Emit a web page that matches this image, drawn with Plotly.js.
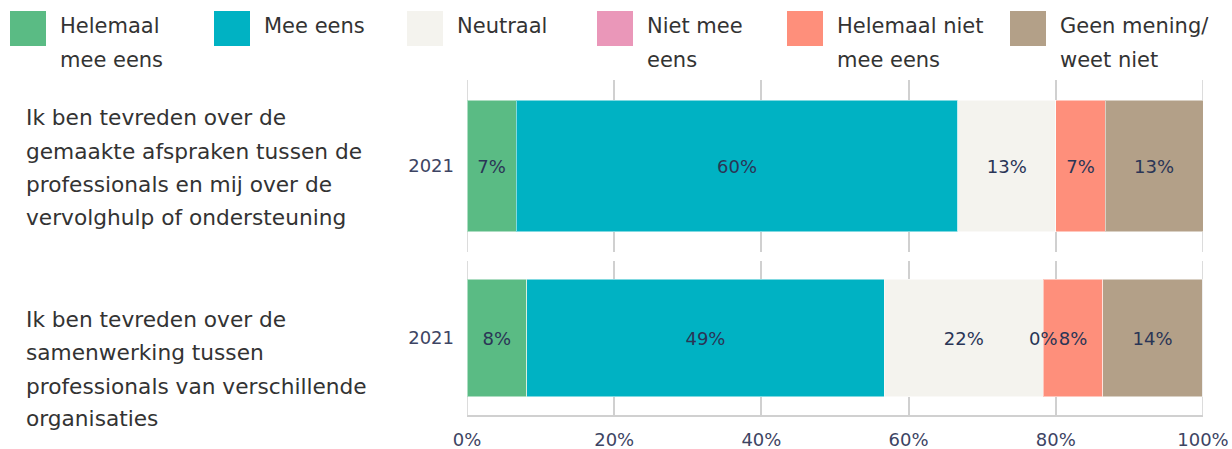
<!DOCTYPE html>
<html>
<head>
<meta charset="utf-8">
<script src="https://cdn.plot.ly/plotly-3.0.1.min.js"></script>
<style>
  html, body { margin: 0; padding: 0; background: #fff; }
  #chart { width: 1232px; height: 449px; }
</style>
</head>
<body>
<div id="chart"></div>
<script>
// answer categories, legend text (as wrapped in the picture) and colours
const categories = ["Helemaal mee eens", "Mee eens", "Neutraal", "Niet mee eens", "Helemaal niet mee eens", "Geen mening/weet niet"];
const legendLines = [["Helemaal", "mee eens"], ["Mee eens"], ["Neutraal"], ["Niet mee", "eens"], ["Helemaal niet", "mee eens"], ["Geen mening/", "weet niet"]];
const colors = ["#5abb84", "#00b2c3", "#f4f3ee", "#ea97b9", "#fe8f7b", "#b3a088"];

// questions (one facet each) and year
const questionLines = [
  ["Ik ben tevreden over de", "gemaakte afspraken tussen de", "professionals en mij over de", "vervolghulp of ondersteuning"],
  ["Ik ben tevreden over de", "samenwerking tussen", "professionals van verschillende", "organisaties"],
];
const years = ["2021"];

// percentages per category
const valuesQ1 = [6.7, 60, 13.3, null, 6.7, 13.3];
const valuesQ2 = [8.1, 48.6, 21.6, 0, 8.1, 13.5];
const values = [valuesQ1, valuesQ2];

const xTicks = [0, 20, 40, 60, 80, 100];

// page geometry (pixels)
const W = 1232, H = 449;
const M = { l: 467, r: 29, t: 80, b: 34 };
const PW = W - M.l - M.r, PH = H - M.t - M.b;
const px = (x) => (x - M.l) / PW;
const py = (y) => (H - M.b - y) / PH;

const FONT = "DejaVu Sans";
const textDark = "#333333";
const tickColor = "#3d4463";
const labelColor = "#2a3556";
const gridColor = "#d0d0d0";

const traces = [];
const shapes = [];
const annotations = [];

values.forEach((vals, q) => {
  const xa = q === 0 ? "x" : "x2";
  const ya = q === 0 ? "y" : "y2";
  let cum = 0;
  vals.forEach((v, i) => {
    traces.push({
      type: "bar",
      orientation: "h",
      x: [v],
      y: years,
      name: categories[i],
      xaxis: xa,
      yaxis: ya,
      marker: { color: colors[i], line: { color: "rgba(255,255,255,0.5)", width: 1 } },
      texttemplate: "%{x:.0f}%",
      textposition: "inside",
      insidetextanchor: "middle",
      constraintext: "none",
      textangle: 0,
      textfont: { family: FONT, size: 18, color: labelColor },
      hovertemplate: categories[i] + ": %{x:.0f}%<extra></extra>",
      showlegend: false,
    });
    // zero-width segments still get their label, as in the source chart
    if (v === 0) {
      annotations.push({
        xref: xa, yref: ya, x: cum, y: 0, // category index of years[0]
        text: v + "%", showarrow: false,
        font: { family: FONT, size: 18, color: labelColor },
      });
    }
    cum += v || 0;
  });
  // gridlines on the range edges (Plotly skips them)
  [xTicks[0], xTicks[xTicks.length - 1]].forEach((t) => {
    shapes.push({
      type: "line", layer: "below", xref: xa, yref: ya + " domain",
      x0: t, x1: t, y0: 0, y1: 1,
      line: { color: gridColor, width: 1.5 },
    });
  });
});

// legend: big squares + wrapped labels
const legendX = [10, 214, 407, 597, 787, 1010];
categories.forEach((c, i) => {
  shapes.push({
    type: "rect", xref: "paper", yref: "paper",
    x0: px(legendX[i]), x1: px(legendX[i] + 36),
    y0: py(46), y1: py(11),
    fillcolor: colors[i], line: { width: 0 },
  });
  legendLines[i].forEach((t, k) => {
    annotations.push({
      xref: "paper", yref: "paper",
      x: px(legendX[i] + 48), y: py(26 + k * 34),
      xanchor: "left", yanchor: "middle",
      text: t, showarrow: false,
      font: { family: FONT, size: 21, color: textDark },
    });
  });
});

// question labels on the left
const questionY = [[118, 151, 184, 217], [319, 352, 386, 419]];
questionLines.forEach((lines, q) => {
  lines.forEach((t, k) => {
    annotations.push({
      xref: "paper", yref: "paper",
      x: px(24), y: py(questionY[q][k]),
      xanchor: "left", yanchor: "middle",
      text: t, showarrow: false,
      font: { family: FONT, size: 21.7, color: textDark },
    });
  });
});

const xBase = {
  range: [0, 100],
  showgrid: true, gridcolor: gridColor, gridwidth: 1.5,
  zeroline: false,
  tickmode: "array",
  tickvals: xTicks,
  ticktext: xTicks.map((t) => t + "%"),
  fixedrange: true,
};
const yBase = {
  type: "category",
  showgrid: false, zeroline: false,
  ticks: "",
  ticklabelstandoff: 12,
  tickfont: { family: FONT, size: 18, color: tickColor },
  fixedrange: true,
};

const layout = {
  width: W, height: H,
  margin: M,
  barmode: "stack",
  bargap: 0.235,
  paper_bgcolor: "#ffffff",
  plot_bgcolor: "#ffffff",
  font: { family: FONT, color: textDark },
  xaxis: Object.assign({}, xBase, { anchor: "y", showticklabels: false, ticks: "" }),
  xaxis2: Object.assign({}, xBase, {
    anchor: "y2", showline: true, linecolor: gridColor, linewidth: 1.5,
    ticks: "", ticklabelstandoff: 8,
    tickfont: { family: FONT, size: 18, color: tickColor },
  }),
  yaxis: Object.assign({}, yBase, { domain: [py(252), 1], anchor: "x" }),
  yaxis2: Object.assign({}, yBase, { domain: [0, py(261)], anchor: "x2" }),
  shapes,
  annotations,
  showlegend: false,
};

Plotly.newPlot("chart", traces, layout, { displayModeBar: false, responsive: false });
</script>
</body>
</html>
